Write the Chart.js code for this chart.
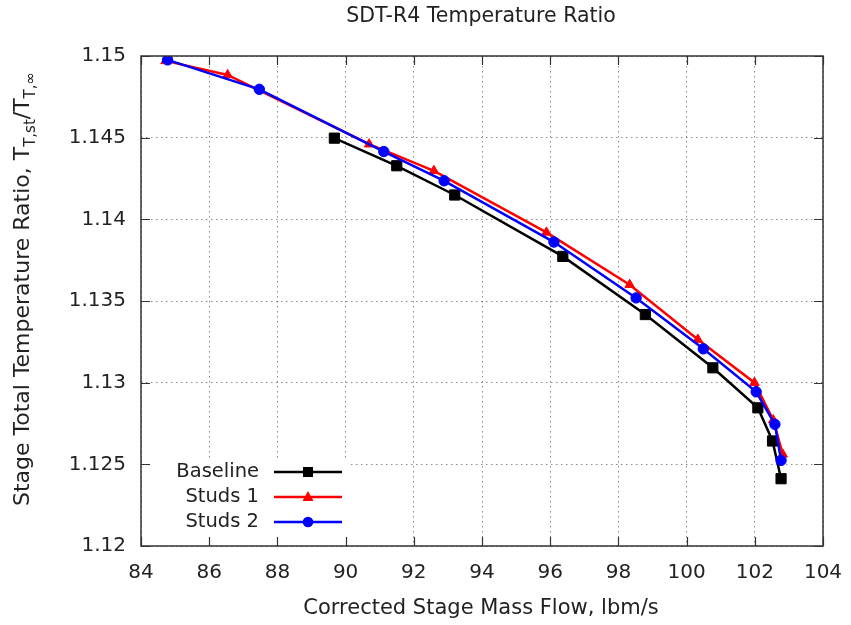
<!DOCTYPE html>
<html>
<head>
<meta charset="utf-8">
<script src="https://cdn.jsdelivr.net/npm/chart.js@4/dist/chart.umd.min.js"></script>
<style>
  html, body { margin: 0; padding: 0; background: #fff; }
  #wrap { width: 851px; height: 625px; }
</style>
</head>
<body>
<div id="wrap"><canvas id="c" width="851" height="625"></canvas></div>
<script>
// Axis ticks
const xTicks = [84, 86, 88, 90, 92, 94, 96, 98, 100, 102, 104];
const yTicks = [1.12, 1.125, 1.13, 1.135, 1.14, 1.145, 1.15];
const yTickLabels = ['1.12', '1.125', '1.13', '1.135', '1.14', '1.145', '1.15'];

// Corrected stage mass flow (lbm/s) and stage total temperature ratio
const flowBaseline  = [89.67, 91.50, 93.20, 96.37, 98.79, 100.77, 102.09, 102.52, 102.77];
const ratioBaseline = [1.14497, 1.14328, 1.14149, 1.13773, 1.13417, 1.13091, 1.12846, 1.12643, 1.12412];

const flowStuds1  = [84.72, 86.54, 90.69, 92.59, 95.89, 98.33, 100.33, 101.99, 102.54, 102.82];
const ratioStuds1 = [1.14970, 1.14884, 1.14460, 1.14297, 1.13920, 1.13600, 1.13264, 1.13000, 1.12771, 1.12561];

const flowStuds2  = [84.78, 87.47, 91.12, 92.89, 96.11, 98.52, 100.49, 102.04, 102.59, 102.77];
const ratioStuds2 = [1.14976, 1.14796, 1.14415, 1.14236, 1.13861, 1.13519, 1.13207, 1.12944, 1.12745, 1.12524];

const seriesNames = ['Baseline', 'Studs 1', 'Studs 2'];

const FONT = 'DejaVu Sans, sans-serif';
const TEXT = '#222';

const toPoints = (xs, ys) => xs.map((x, i) => ({ x: x, y: ys[i] }));

function marker(ctx, style, x, y, color) {
  ctx.save();
  ctx.fillStyle = color;
  ctx.beginPath();
  if (style === 'rect') {
    ctx.rect(x - 5, y - 5, 10, 10);
  } else if (style === 'triangle') {
    ctx.moveTo(x, y - 6);
    ctx.lineTo(x + 5.5, y + 4);
    ctx.lineTo(x - 5.5, y + 4);
    ctx.closePath();
  } else {
    ctx.arc(x, y, 5.3, 0, Math.PI * 2);
  }
  ctx.fill();
  ctx.restore();
}

const decorations = {
  id: 'decorations',
  beforeDatasetsDraw(chart) {
    const ctx = chart.ctx;
    const a = chart.chartArea;
    // opaque key area in the lower-left corner
    ctx.save();
    ctx.fillStyle = '#fff';
    ctx.fillRect(a.left + 1, 458, 209, a.bottom - 458 - 1);
    ctx.restore();
  },
  afterDraw(chart) {
    const ctx = chart.ctx;
    const a = chart.chartArea;
    const xs = chart.scales.x, ys = chart.scales.y;
    ctx.save();

    // frame
    ctx.strokeStyle = '#333';
    ctx.lineWidth = 1.5;
    ctx.strokeRect(a.left, a.top, a.right - a.left, a.bottom - a.top);

    // inward tick marks on all four sides
    ctx.lineWidth = 1.2;
    ctx.beginPath();
    xTicks.forEach(v => {
      const px = Math.round(xs.getPixelForValue(v)) + 0.5;
      ctx.moveTo(px, a.bottom); ctx.lineTo(px, a.bottom - 9);
      ctx.moveTo(px, a.top); ctx.lineTo(px, a.top + 9);
    });
    yTicks.forEach(v => {
      const py = Math.round(ys.getPixelForValue(v)) + 0.5;
      ctx.moveTo(a.left, py); ctx.lineTo(a.left + 9, py);
      ctx.moveTo(a.right, py); ctx.lineTo(a.right - 9, py);
    });
    ctx.stroke();

    // titles
    ctx.fillStyle = TEXT;
    ctx.textAlign = 'center';
    ctx.textBaseline = 'middle';
    ctx.font = '20.5px ' + FONT;
    ctx.fillText('SDT-R4 Temperature Ratio', 481, 17);
    ctx.font = '21px ' + FONT;
    ctx.fillText('Corrected Stage Mass Flow, lbm/s', 481, 609);

    // y-axis title with subscripts
    const segs = [
      { t: 'Stage Total Temperature Ratio, T', size: 22, dy: 0 },
      { t: 'T,st', size: 15, dy: 6 },
      { t: '/T', size: 22, dy: 0 },
      { t: 'T,\u221E', size: 15, dy: 6 }
    ];
    let total = 0;
    segs.forEach(s => { ctx.font = s.size + 'px ' + FONT; s.w = ctx.measureText(s.t).width; total += s.w; });
    ctx.translate(22, 289);
    ctx.rotate(-Math.PI / 2);
    ctx.textAlign = 'left';
    ctx.textBaseline = 'alphabetic';
    let cx = -total / 2;
    segs.forEach(s => {
      ctx.font = s.size + 'px ' + FONT;
      ctx.fillText(s.t, cx, 7 + s.dy);
      cx += s.w;
    });
    ctx.setTransform(1, 0, 0, 1, 0, 0);

    // key
    ctx.font = '19.5px ' + FONT;
    ctx.textAlign = 'right';
    ctx.textBaseline = 'middle';
    chart.data.datasets.forEach((ds, i) => {
      const y = 472 + i * 25;
      ctx.fillStyle = TEXT;
      ctx.fillText(ds.label, 259, y);
      ctx.strokeStyle = ds.borderColor;
      ctx.lineWidth = 2.5;
      ctx.beginPath();
      ctx.moveTo(274, y); ctx.lineTo(342, y);
      ctx.stroke();
      marker(ctx, ds.pointStyle, 308, y, ds.borderColor);
    });
    ctx.restore();
  }
};

function lineSet(label, pts, color, style, radius, order) {
  return {
    label: label,
    data: pts,
    showLine: true,
    borderColor: color,
    backgroundColor: color,
    borderWidth: 2.5,
    pointStyle: style,
    pointRadius: radius,
    pointBackgroundColor: color,
    pointBorderColor: color,
    pointBorderWidth: 1,
    order: order
  };
}

const gridDash = { display: false, dash: [1.5, 3.5] };

new Chart(document.getElementById('c'), {
  type: 'scatter',
  data: {
    datasets: [
      lineSet(seriesNames[0], toPoints(flowBaseline, ratioBaseline), '#000000', 'rect', 7.2, 2),
      lineSet(seriesNames[1], toPoints(flowStuds1, ratioStuds1), '#ff0000', 'triangle', 5.5, 1),
      lineSet(seriesNames[2], toPoints(flowStuds2, ratioStuds2), '#0000ff', 'circle', 5.2, 0)
    ]
  },
  options: {
    responsive: false,
    animation: false,
    devicePixelRatio: 1,
    layout: { padding: { top: 56, right: 28, left: 0, bottom: 0 } },
    plugins: { legend: { display: false }, tooltip: { enabled: false }, title: { display: false } },
    scales: {
      x: {
        type: 'linear',
        min: 84, max: 104,
        afterBuildTicks: s => { s.ticks = xTicks.map(v => ({ value: v })); },
        afterFit: s => { s.height = 79; s.paddingLeft = 0; s.paddingRight = 0; },
        ticks: { font: { family: FONT, size: 20 }, color: TEXT, padding: 15, maxRotation: 0, autoSkip: false, callback: v => String(v) },
        grid: { color: 'rgba(0,0,0,0.45)', lineWidth: 1, drawTicks: false },
        border: gridDash
      },
      y: {
        type: 'linear',
        min: 1.12, max: 1.15,
        afterBuildTicks: s => { s.ticks = yTicks.map(v => ({ value: v })); },
        afterFit: s => { s.width = 141; s.paddingTop = 0; s.paddingBottom = 0; },
        ticks: {
          font: { family: FONT, size: 20 }, color: TEXT, padding: 15, autoSkip: false,
          callback: (v, i) => yTickLabels[i]
        },
        grid: { color: 'rgba(0,0,0,0.45)', lineWidth: 1, drawTicks: false },
        border: gridDash
      }
    }
  },
  plugins: [decorations]
});
</script>
</body>
</html>
